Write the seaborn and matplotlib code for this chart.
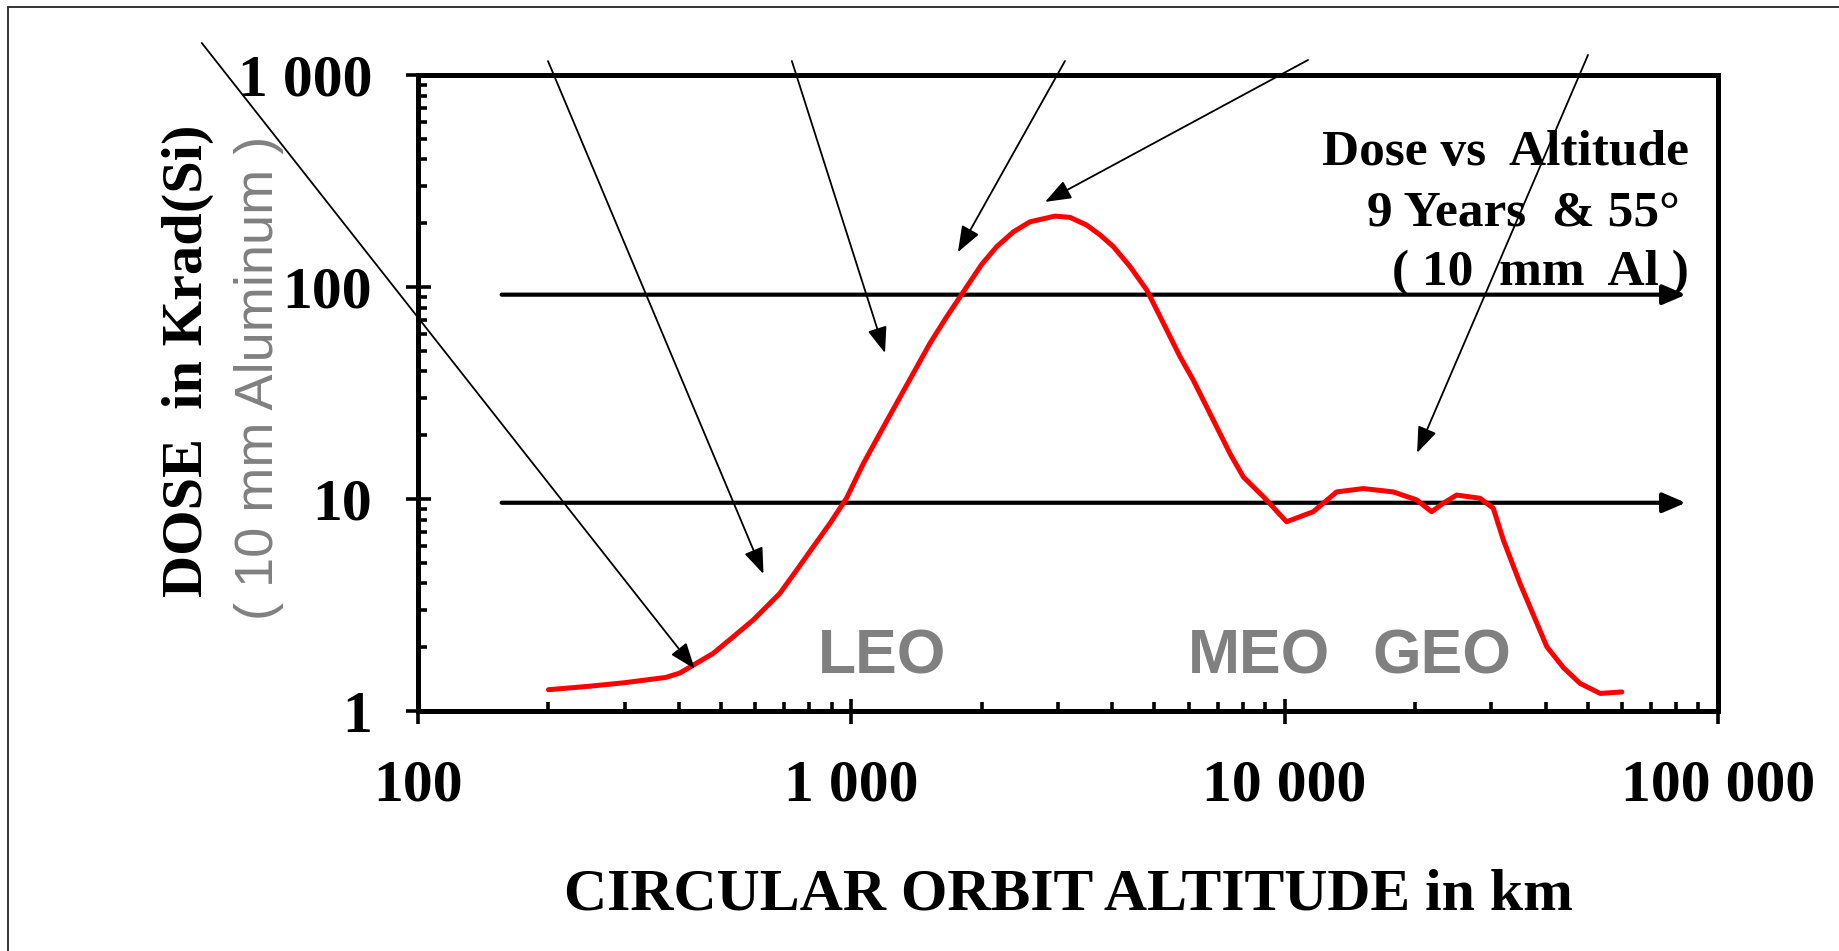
import numpy as np
import pandas as pd
import matplotlib
matplotlib.use("Agg")
import matplotlib.pyplot as plt
import seaborn as sns
from matplotlib.ticker import LogLocator, NullFormatter
from matplotlib.lines import Line2D

# ---------------- data ----------------
altitude_km = [200, 250, 300, 373, 402, 480, 534, 594, 684, 748, 817, 893, 975,
               1066, 1164, 1272, 1390, 1519, 1660, 1750, 1880, 2000, 2165, 2366, 2583,
               2951, 3196, 3491, 3750, 4024, 4395, 4805, 5251, 5735, 6152, 6966,
               7500, 8030, 8933, 10100, 11640, 13180, 15190, 17810, 20170, 21830,
               23220, 24940, 28240, 30300, 31960, 34920, 40270, 44000, 48040, 53460, 59980]
dose_krad = [1.26, 1.31, 1.36, 1.44, 1.51, 1.87, 2.24, 2.69, 3.59, 4.62, 5.96, 7.68, 10.1,
             14.7, 20.4, 28.3, 39.2, 54.3, 72.4, 85, 106, 128, 155, 182, 203,
             216, 213, 196, 176, 155, 125, 96.8, 67.4, 46.9, 36.4, 21.9,
             16.2, 12.7, 10.25, 7.81, 8.71, 10.8, 11.2, 10.8, 9.9, 8.71,
             9.55, 10.44, 10.08, 9.04, 6.41, 4.0, 2.01, 1.6, 1.35, 1.21, 1.23]

x_ticks = [100, 1000, 10000, 100000]
x_tick_labels = ["100", "1 000", "10 000", "100 000"]
y_ticks = [1, 10, 100, 1000]
y_tick_labels = ["1", "10", "100", "1 000"]

orbit_labels = ["LEO", "MEO", "GEO"]
orbit_label_x = [838, 5985, 15910]
orbit_label_y = [1.51, 1.51, 1.51]

ref_levels = [92, 9.6]
ref_x_start = 156
ref_x_end = 84300

pointer_start_x = [31.7, 199.5, 729, 3112, 11320, 50120]
pointer_start_y = [1416, 1164, 1164, 1164, 1177, 1243]
pointer_tip_x = [435, 627, 1196, 1762, 2799, 20210]
pointer_tip_y = [1.58, 4.43, 48.8, 146, 252, 16.5]

title_lines = ["Dose vs  Altitude", "9 Years  & 55°", "( 10  mm  Al )"]
x_label = "CIRCULAR ORBIT ALTITUDE in km"
y_label_main = "DOSE  in Krad(Si)"
y_label_sub = "( 10 mm Aluminum )"

# ---------------- style ----------------
sns.set_theme(style="white")
plt.rcParams["font.family"] = ["Liberation Serif", "DejaVu Sans"]

W, H = 1840, 951
fig = plt.figure(figsize=(W / 100, H / 100), dpi=100, facecolor="white")
ax = fig.add_axes([418 / W, 1 - 711 / H, 1300 / W, 636 / H])
ax.set_facecolor("white")

df = pd.DataFrame({"altitude": altitude_km, "dose": dose_krad})
sns.lineplot(data=df, x="altitude", y="dose", ax=ax, color="#ff0000",
             linewidth=3.6, sort=False, estimator=None, zorder=3)

ax.set_xscale("log")
ax.set_yscale("log")
ax.set_xlim(100, 100000)
ax.set_ylim(1, 1000)
ax.set_xlabel("")
ax.set_ylabel("")

for s in ax.spines.values():
    s.set_visible(True)
    s.set_color("black")
    s.set_linewidth(3.6)

ax.set_xticks(x_ticks, labels=x_tick_labels, fontsize=43, fontweight="bold")
ax.set_yticks(y_ticks, labels=y_tick_labels, fontsize=43, fontweight="bold")
ax.xaxis.set_minor_locator(LogLocator(base=10, subs=np.arange(2, 10)))
ax.yaxis.set_minor_locator(LogLocator(base=10, subs=np.arange(2, 10)))
ax.xaxis.set_minor_formatter(NullFormatter())
ax.yaxis.set_minor_formatter(NullFormatter())
ax.tick_params(which="both", bottom=True, left=True, top=False, right=False,
               colors="black")
ax.tick_params(axis="x", which="major", direction="inout", length=18, width=2.6, pad=26)
ax.tick_params(axis="y", which="major", direction="inout", length=18, width=2.6, pad=24)
ax.tick_params(which="minor", direction="in", length=6.5, width=2.6)

# reference horizontal arrows
for lvl in ref_levels:
    ax.annotate("", xy=(ref_x_end, lvl), xytext=(ref_x_start, lvl),
                arrowprops=dict(arrowstyle="-|>,head_length=0.7,head_width=0.3",
                                color="black", lw=3, mutation_scale=20,
                                shrinkA=0, shrinkB=0),
                annotation_clip=False, zorder=2)

# pointer arrows
for sx, sy, tx, ty in zip(pointer_start_x, pointer_start_y, pointer_tip_x, pointer_tip_y):
    ax.annotate("", xy=(tx, ty), xytext=(sx, sy),
                arrowprops=dict(arrowstyle="-|>,head_length=0.8,head_width=0.3",
                                color="black", lw=1.3, mutation_scale=20,
                                shrinkA=0, shrinkB=0),
                annotation_clip=False, zorder=4)

# orbit region labels
for lab, lx, ly in zip(orbit_labels, orbit_label_x, orbit_label_y):
    ax.text(lx, ly, lab, ha="left", va="baseline", fontsize=45,
            fontweight="bold", color="#808080", family="Liberation Sans", zorder=2)

# title block (right aligned)
title_baselines = [165, 225, 285]
title_right = [1689, 1680, 1689]
for txt, by, rx in zip(title_lines, title_baselines, title_right):
    fig.text(rx / W, 1 - by / H, txt, ha="right", va="baseline",
             fontsize=37, fontweight="bold", color="black")

# axis labels
fig.text(1068 / W, 1 - 909 / H, x_label, ha="center", va="baseline",
         fontsize=43, fontweight="bold", color="black")
fig.text(188 / W, 1 - 361 / H, y_label_main, rotation=90, ha="center", va="center",
         fontsize=42, fontweight="bold", color="black")
fig.text(259 / W, 1 - 378 / H, y_label_sub, rotation=90, ha="center", va="center",
         fontsize=39, color="#808080", family="Liberation Sans")

# slide frame (left and top edges)
fig.add_artist(Line2D([8 / W, 8 / W], [0, 1 - 7 / H], transform=fig.transFigure,
                      color="#333333", lw=1.4))
fig.add_artist(Line2D([8 / W, 1], [1 - 7 / H, 1 - 7 / H], transform=fig.transFigure,
                      color="#333333", lw=1.4))

fig.savefig("out.png", dpi=100, facecolor="white")
